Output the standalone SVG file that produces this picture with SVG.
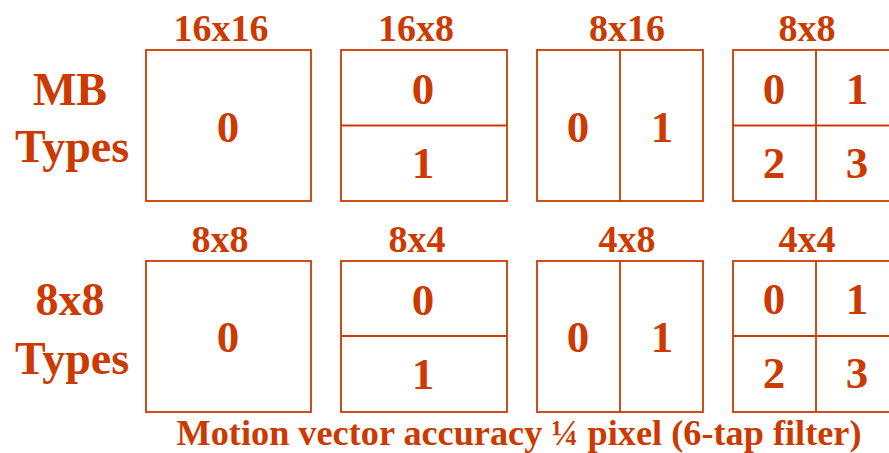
<svg xmlns="http://www.w3.org/2000/svg" width="889" height="453" viewBox="0 0 889 453">
<style>
.t{font-family:"Liberation Serif","Times New Roman",serif;font-weight:bold;fill:#CC3A00;text-anchor:middle}
.lb{font-size:38px}
.sd{font-size:46px}
.dg{font-size:45px}
.cap{font-size:35px}
.bx{fill:#fff;stroke:#CC3A00;stroke-width:1.8}
.ln{stroke:#CC3A00;stroke-width:1.8;fill:none}
</style>
<rect width="889" height="453" fill="#fff"/>
<g id="side-mb">
<text class="t sd" x="70" y="105">MB</text>
<text class="t sd" x="72" y="162">Types</text>
</g>
<g id="side-8x8">
<text class="t sd" x="70" y="315">8x8</text>
<text class="t sd" x="72" y="374">Types</text>
</g>
<g id="mb16x16">
<text class="t lb" x="221" y="41">16x16</text>
<rect class="bx" x="146" y="50" width="165" height="151"/>
<text class="t dg" x="228" y="142">0</text>
</g>
<g id="mb16x8">
<text class="t lb" x="416" y="41">16x8</text>
<rect class="bx" x="341" y="50" width="166" height="151"/>
<line class="ln" x1="341" y1="125.5" x2="507" y2="125.5"/>
<text class="t dg" x="423" y="104">0</text>
<text class="t dg" x="423" y="178">1</text>
</g>
<g id="mb8x16">
<text class="t lb" x="627" y="41">8x16</text>
<rect class="bx" x="537" y="50" width="166" height="151"/>
<line class="ln" x1="620" y1="50" x2="620" y2="201"/>
<text class="t dg" x="578" y="142">0</text>
<text class="t dg" x="662" y="142">1</text>
</g>
<g id="mb8x8">
<text class="t lb" x="807" y="41">8x8</text>
<rect class="bx" x="733" y="50" width="166" height="151"/>
<line class="ln" x1="816" y1="50" x2="816" y2="201"/>
<line class="ln" x1="733" y1="125.5" x2="899" y2="125.5"/>
<text class="t dg" x="774" y="104">0</text>
<text class="t dg" x="857" y="104">1</text>
<text class="t dg" x="774" y="178">2</text>
<text class="t dg" x="857" y="178">3</text>
</g>
<g id="sub8x8">
<text class="t lb" x="220" y="252">8x8</text>
<rect class="bx" x="146" y="261" width="165" height="151"/>
<text class="t dg" x="228" y="352">0</text>
</g>
<g id="sub8x4">
<text class="t lb" x="417" y="252">8x4</text>
<rect class="bx" x="341" y="261" width="166" height="151"/>
<line class="ln" x1="341" y1="336" x2="507" y2="336"/>
<text class="t dg" x="423" y="315">0</text>
<text class="t dg" x="423" y="389">1</text>
</g>
<g id="sub4x8">
<text class="t lb" x="627" y="252">4x8</text>
<rect class="bx" x="537" y="261" width="166" height="151"/>
<line class="ln" x1="620" y1="261" x2="620" y2="412"/>
<text class="t dg" x="578" y="352">0</text>
<text class="t dg" x="662" y="352">1</text>
</g>
<g id="sub4x4">
<text class="t lb" x="807" y="252">4x4</text>
<rect class="bx" x="733" y="261" width="166" height="151"/>
<line class="ln" x1="816" y1="261" x2="816" y2="412"/>
<line class="ln" x1="733" y1="336" x2="899" y2="336"/>
<text class="t dg" x="774" y="314">0</text>
<text class="t dg" x="857" y="314">1</text>
<text class="t dg" x="774" y="388">2</text>
<text class="t dg" x="857" y="388">3</text>
</g>
<g id="caption">
<text class="t cap" x="519" y="445" textLength="685" lengthAdjust="spacingAndGlyphs">Motion vector accuracy ¼ pixel (6-tap filter)</text>
</g>
<g id="connectors"/>
</svg>
